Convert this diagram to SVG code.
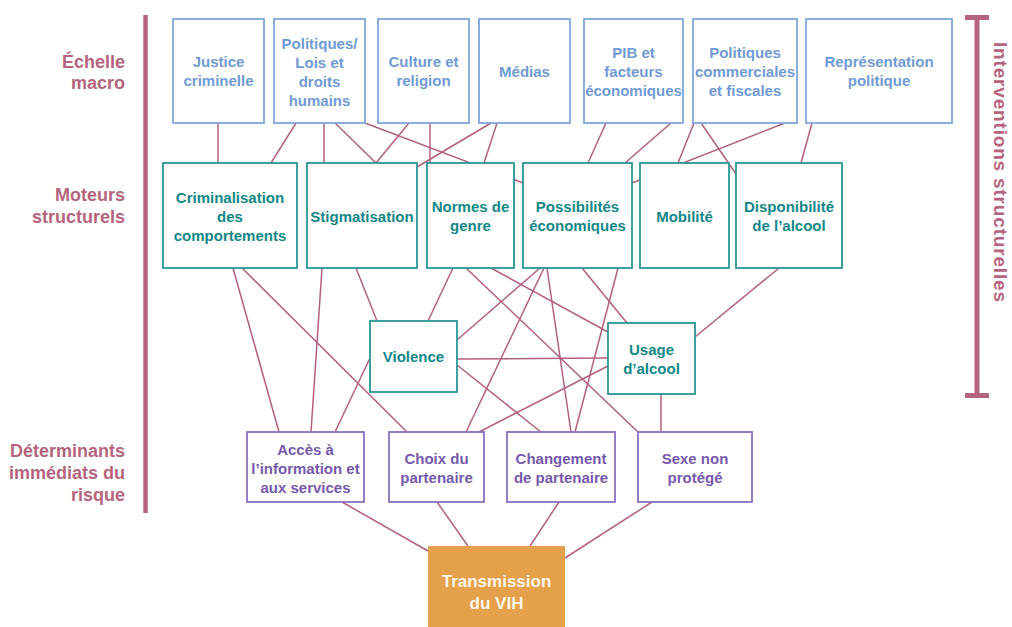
<svg xmlns="http://www.w3.org/2000/svg" width="1012" height="627" viewBox="0 0 1012 627">
<style>
text{font-family:"Liberation Sans",Arial,sans-serif;font-weight:bold;text-anchor:middle}
.lbl{fill:#b5647e;font-size:18px;text-anchor:end}
.side{fill:#b5647e;font-size:19px}
.bar{fill:#b5647e}
.macro rect{fill:#fff;stroke:#7ea7dc;stroke-width:1.8}
.macro text{fill:#6f9ad4;font-size:15px}
.mot rect{fill:#fff;stroke:#2b9696;stroke-width:1.8}
.mot text{fill:#128787;font-size:15px}
.det rect{fill:#fff;stroke:#8a70c0;stroke-width:1.8}
.det text{fill:#7659ab;font-size:15px}
.hiv rect{fill:#e5a04c}
.hiv text{fill:#fff6ea;font-size:17px}
#connectors line{stroke:#b2617b;stroke-width:1.5}
</style>
<rect width="1012" height="627" fill="#fff"/>
<g id="labels">
<text class="lbl" x="125" y="67.5">Échelle</text>
<text class="lbl" x="125" y="89">macro</text>
<text class="lbl" x="125" y="201">Moteurs</text>
<text class="lbl" x="125" y="223">structurels</text>
<text class="lbl" x="125" y="457">Déterminants</text>
<text class="lbl" x="125" y="479">immédiats du</text>
<text class="lbl" x="125" y="500.5">risque</text>
<rect class="bar" x="143.3" y="15" width="4.5" height="498"/>
<rect class="bar" x="974.5" y="16" width="5" height="382"/>
<rect class="bar" x="965" y="15" width="24" height="5"/>
<rect class="bar" x="965" y="393" width="24" height="5"/>
<text class="side" transform="translate(994,172) rotate(90)" textLength="260" lengthAdjust="spacing">Interventions structurelles</text>
</g>
<g id="connectors">
<line x1="218" y1="123" x2="218" y2="163"/>
<line x1="296" y1="123" x2="271" y2="163"/>
<line x1="324" y1="123" x2="324" y2="163"/>
<line x1="335" y1="123" x2="376" y2="163"/>
<line x1="365" y1="123" x2="523" y2="183"/>
<line x1="409" y1="123" x2="376" y2="163"/>
<line x1="430" y1="123" x2="430" y2="163"/>
<line x1="491" y1="123" x2="417" y2="167"/>
<line x1="497" y1="123" x2="484" y2="163"/>
<line x1="606" y1="123" x2="588" y2="163"/>
<line x1="671" y1="123" x2="625" y2="163"/>
<line x1="785" y1="123" x2="632" y2="183"/>
<line x1="694" y1="123" x2="678" y2="163"/>
<line x1="701" y1="123" x2="736" y2="174"/>
<line x1="812" y1="123" x2="801" y2="163"/>
<line x1="233" y1="268" x2="279" y2="432"/>
<line x1="242" y1="268" x2="407" y2="432"/>
<line x1="322" y1="268" x2="311" y2="432"/>
<line x1="356" y1="268" x2="377" y2="321"/>
<line x1="370" y1="358" x2="335" y2="432"/>
<line x1="453" y1="268" x2="428" y2="321"/>
<line x1="466" y1="268" x2="638" y2="432"/>
<line x1="491" y1="268" x2="608" y2="332"/>
<line x1="540" y1="268" x2="457" y2="340"/>
<line x1="544" y1="268" x2="466" y2="432"/>
<line x1="547" y1="268" x2="571" y2="432"/>
<line x1="582" y1="268" x2="627" y2="323"/>
<line x1="618" y1="268" x2="575" y2="432"/>
<line x1="457" y1="359" x2="608" y2="358"/>
<line x1="457" y1="365" x2="541" y2="432"/>
<line x1="608" y1="366" x2="479" y2="432"/>
<line x1="661" y1="394" x2="661" y2="432"/>
<line x1="779" y1="268" x2="695" y2="337"/>
<line x1="342" y1="502" x2="428" y2="551"/>
<line x1="437" y1="502" x2="468" y2="546"/>
<line x1="559" y1="502" x2="530" y2="546"/>
<line x1="652" y1="502" x2="565" y2="558"/>
</g>
<g class="macro">
<g id="justice"><rect x="173" y="19" width="91" height="104"/><text x="218.5" y="67">Justice</text><text x="218.5" y="86">criminelle</text></g>
<g id="politiques-lois"><rect x="274" y="19" width="91" height="104"/><text x="319.5" y="48.5">Politiques/</text><text x="319.5" y="67.5">Lois et</text><text x="319.5" y="86.5">droits</text><text x="319.5" y="105.5">humains</text></g>
<g id="culture"><rect x="378" y="19" width="91" height="104"/><text x="423.5" y="67">Culture et</text><text x="423.5" y="86">religion</text></g>
<g id="medias"><rect x="479" y="19" width="91" height="104"/><text x="524.5" y="77">Médias</text></g>
<g id="pib"><rect x="584" y="19" width="99" height="104"/><text x="633.5" y="58">PIB et</text><text x="633.5" y="77">facteurs</text><text x="633.5" y="96">économiques</text></g>
<g id="politiques-commerciales"><rect x="693" y="19" width="104" height="104"/><text x="745" y="58">Politiques</text><text x="745" y="77">commerciales</text><text x="745" y="96">et fiscales</text></g>
<g id="representation"><rect x="806" y="19" width="146" height="104"/><text x="879" y="67">Représentation</text><text x="879" y="86">politique</text></g>
</g>
<g class="mot">
<g id="criminalisation"><rect x="163" y="163" width="134" height="105"/><text x="230" y="202.5">Criminalisation</text><text x="230" y="221.5">des</text><text x="230" y="240.5">comportements</text></g>
<g id="stigmatisation"><rect x="307" y="163" width="110" height="105"/><text x="362" y="221.5">Stigmatisation</text></g>
<g id="normes"><rect x="427" y="163" width="87" height="105"/><text x="470.5" y="212">Normes de</text><text x="470.5" y="231">genre</text></g>
<g id="possibilites"><rect x="523" y="163" width="109" height="105"/><text x="577.5" y="212">Possibilités</text><text x="577.5" y="231">économiques</text></g>
<g id="mobilite"><rect x="640" y="163" width="89" height="105"/><text x="684.5" y="221.5">Mobilité</text></g>
<g id="disponibilite"><rect x="736" y="163" width="106" height="105"/><text x="789" y="212">Disponibilité</text><text x="789" y="231">de l’alcool</text></g>
<g id="violence"><rect x="370" y="321" width="87" height="71"/><text x="413.5" y="362">Violence</text></g>
<g id="usage"><rect x="608" y="323" width="87" height="71"/><text x="651.5" y="354.5">Usage</text><text x="651.5" y="373.5">d’alcool</text></g>
</g>
<g class="det">
<g id="acces"><rect x="247" y="432" width="117" height="70"/><text x="305.5" y="454.5">Accès à</text><text x="305.5" y="473.5">l’information et</text><text x="305.5" y="492.5">aux services</text></g>
<g id="choix"><rect x="389" y="432" width="95" height="70"/><text x="436.5" y="464">Choix du</text><text x="436.5" y="483">partenaire</text></g>
<g id="changement"><rect x="507" y="432" width="108" height="70"/><text x="561" y="464">Changement</text><text x="561" y="483">de partenaire</text></g>
<g id="sexe"><rect x="638" y="432" width="114" height="70"/><text x="695" y="464">Sexe non</text><text x="695" y="483">protégé</text></g>
</g>
<g class="hiv">
<g id="transmission"><rect x="428" y="546" width="137" height="81"/><text x="496.5" y="587">Transmission</text><text x="496.5" y="608.5">du VIH</text></g>
</g>
</svg>
